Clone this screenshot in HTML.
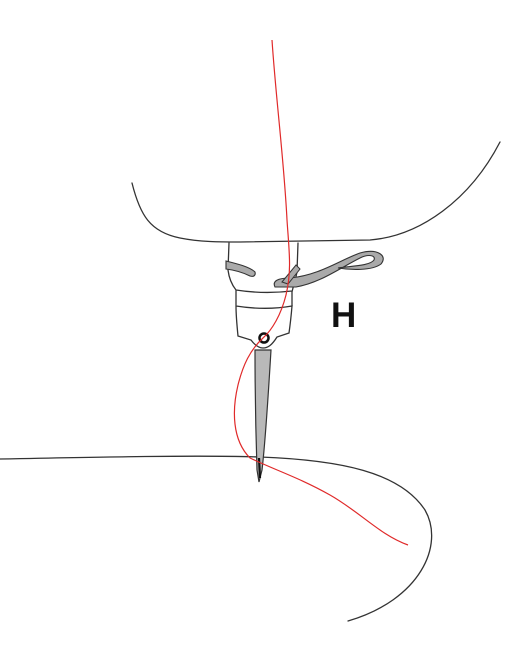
<!DOCTYPE html>
<html><head><meta charset="utf-8"><style>
html,body{margin:0;padding:0;background:#fff;width:522px;height:664px;overflow:hidden}
svg{display:block}
</style></head><body>
<svg width="522" height="664" viewBox="0 0 522 664">
<g fill="none" stroke="#333" stroke-width="1.3" stroke-linecap="round">
<path d="M132,183 C140,215 150,232 180,238 C200,242 220,242 240,242 L370,240 C420,236 470,200 500,142"/>
<path d="M229,243 L228,270 C229,278 232,285 236,290 L236,305 M298,243 L297,272 C295,282 293,287 292,292 L292,306 M236,290 C255,293 275,293 292,291"/>
<path d="M236,306 C255,309 275,309 292,306 C291,318 290,326 289,333 L277,337 C272,345 268,348 263,348 C258,348 254,344 251,340 L238,336 C237,326 236,316 236,306 Z" fill="#fff"/>
<path d="M0,459 C100,457 200,455 260,457 C340,460 400,472 425,510 C445,545 420,600 348,621"/>
</g>
<path d="M255,350 L271,350 C268,400 265,445 262,470 L259,482 L257,470 C256,440 255,400 255,350 Z" fill="#b9b9b9" stroke="#333" stroke-width="1.2"/>
<path d="M259,458 L260,478" stroke="#111" stroke-width="2.2"/>
<path d="M226,261 C238,264 250,267 255,272 C256,276 253,277 250,276 C242,272 234,270 226,269 Z" fill="#aaa" stroke="#333" stroke-width="1.1"/>
<path d="M275,287 C272,281 278,278 290,278 C320,275 340,260 360,253 C378,248 388,256 381,264 C372,271 350,270 338,268 C350,266 370,266 374,260 C376,255 368,254 360,258 C340,268 320,283 296,287 Z" fill="#aaa" stroke="#333" stroke-width="1.1"/>
<path d="M282,282 L296,265 L300,269 L288,284 Z" fill="#aaa" stroke="#333" stroke-width="1"/>
<circle cx="264" cy="338" r="4.5" fill="#fff" stroke="#111" stroke-width="2.5"/>
<path d="M272,40 C276,100 284,160 287,220 C289,250 292,270 286,295 C281,315 272,330 263,338 C250,350 243,365 238,385 C232,410 232,440 250,458 C275,470 300,478 330,495 C360,512 380,535 408,545" fill="none" stroke="#e02a2a" stroke-width="1.2"/>
<text x="331" y="327" font-family="Liberation Sans, sans-serif" font-weight="bold" font-size="35" fill="#111">H</text>
</svg>
</body></html>
